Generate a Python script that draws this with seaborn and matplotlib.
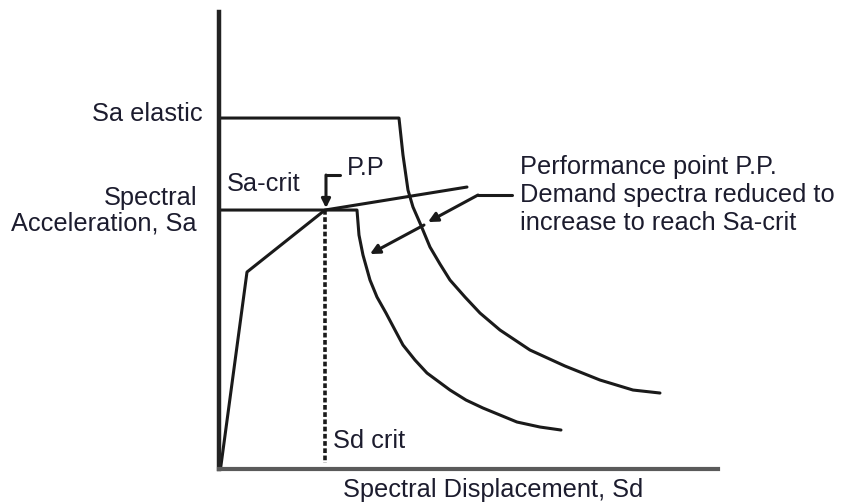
import pandas as pd
import matplotlib
matplotlib.use("Agg")
import matplotlib.pyplot as plt
import seaborn as sns

# Data (Sd, Sa in arbitrary schematic units)
capacity_sd = [0.03, 0.56, 2.12, 4.96]
capacity_sa = [0.00, 3.94, 5.18, 5.64]

elastic_sd = [0.00, 3.60, 3.68, 3.78, 3.88, 4.02, 4.22, 4.42, 4.62, 4.92, 5.22,
              5.62, 6.22, 6.92, 7.62, 8.28, 8.82]
elastic_sa = [7.02, 7.02, 6.28, 5.58, 5.24, 4.92, 4.44, 4.10, 3.78, 3.44, 3.12,
              2.78, 2.38, 2.06, 1.78, 1.58, 1.52]

reduced_sd = [0.00, 2.76, 2.80, 2.88, 3.02, 3.16, 3.34, 3.52, 3.68, 3.92, 4.16,
              4.62, 4.94, 5.28, 5.62, 5.96, 6.42, 6.84]
reduced_sa = [5.18, 5.18, 4.68, 4.28, 3.78, 3.44, 3.12, 2.78, 2.48, 2.18, 1.92,
              1.58, 1.38, 1.22, 1.08, 0.94, 0.84, 0.78]

pp_sd = 2.12
sa_crit = 5.18
sa_elastic = 7.02

ink = "#1a1a1a"
txt = "#1c1c2e"
fs = 18.3

sns.set_theme(style="white")
plt.rcParams["font.family"] = ["Liberation Sans", "DejaVu Sans"]

fig = plt.figure(figsize=(8.41, 5.04), dpi=100)
ax = fig.add_axes([0.2604, 0.0694, 0.5933, 0.9067])

df_cap = pd.DataFrame({"Sd": capacity_sd, "Sa": capacity_sa})
df_el = pd.DataFrame({"Sd": elastic_sd, "Sa": elastic_sa})
df_red = pd.DataFrame({"Sd": reduced_sd, "Sa": reduced_sa})

for d in (df_cap, df_el, df_red):
    sns.lineplot(data=d, x="Sd", y="Sa", sort=False, estimator=None,
                 color=ink, lw=2.2, ax=ax, solid_joinstyle="round")

# Sd crit dotted line
ax.plot([pp_sd, pp_sd], [sa_crit, 0.12], color=ink, lw=2.6,
        linestyle=(0, (1.3, 0.7)))

# P.P marker
ax.plot([pp_sd + 0.02, 2.42], [5.88, 5.88], color=ink, lw=2.2)
ax.annotate("", xy=(pp_sd + 0.02, sa_crit + 0.04), xytext=(pp_sd + 0.02, 5.88),
            arrowprops=dict(arrowstyle="-|>", lw=2.2, color=ink,
                            mutation_scale=13, shrinkA=0, shrinkB=0))

# pointer from the right-hand note
ax.plot([5.86, 5.18], [5.48, 5.48], color=ink, lw=2.2)
ax.annotate("", xy=(4.18, 4.94), xytext=(5.18, 5.48),
            arrowprops=dict(arrowstyle="-|>", lw=2.2, color=ink,
                            mutation_scale=14, shrinkA=0, shrinkB=0))
ax.annotate("", xy=(3.02, 4.30), xytext=(4.10, 4.88),
            arrowprops=dict(arrowstyle="-|>", lw=2.2, color=ink,
                            mutation_scale=14, shrinkA=0, shrinkB=0))

# labels
ax.text(-0.32, 7.10, "Sa elastic", ha="right", va="center", fontsize=fs, color=txt, clip_on=False)
ax.text(0.16, 5.70, "Sa-crit", ha="left", va="center", fontsize=fs, color=txt)
ax.text(2.56, 6.02, "P.P", ha="left", va="center", fontsize=fs, color=txt)
ax.text(2.28, 0.56, "Sd crit", ha="left", va="center", fontsize=fs, color=txt)
ax.text(6.02, 6.04, "Performance point P.P.", ha="left", va="center", fontsize=fs, color=txt, clip_on=False)
ax.text(6.02, 5.48, "Demand spectra reduced to", ha="left", va="center", fontsize=fs, color=txt, clip_on=False)
ax.text(6.02, 4.92, "increase to reach Sa-crit", ha="left", va="center", fontsize=fs, color=txt, clip_on=False)

ax.set_xlabel("Spectral Displacement, Sd", fontsize=fs, color=txt, va="center")
ax.xaxis.set_label_coords(0.549, -0.046)
ax.set_ylabel("Spectral\nAcceleration, Sa", fontsize=fs, color=txt, rotation=0,
              ha="right", va="center", multialignment="right", linespacing=1.08)
ax.yaxis.set_label_coords(-0.044, 0.5646)

ax.set_xlim(0, 9.98)
ax.set_ylim(0, 9.14)
ax.set_xticks([])
ax.set_yticks([])
sns.despine(ax=ax)
ax.spines["left"].set_linewidth(3.2)
ax.spines["left"].set_color("#222222")
ax.spines["bottom"].set_linewidth(3.0)
ax.spines["bottom"].set_color("#5a5a5a")
ax.set_facecolor("white")

fig.savefig("out.png", dpi=100, facecolor="white")
